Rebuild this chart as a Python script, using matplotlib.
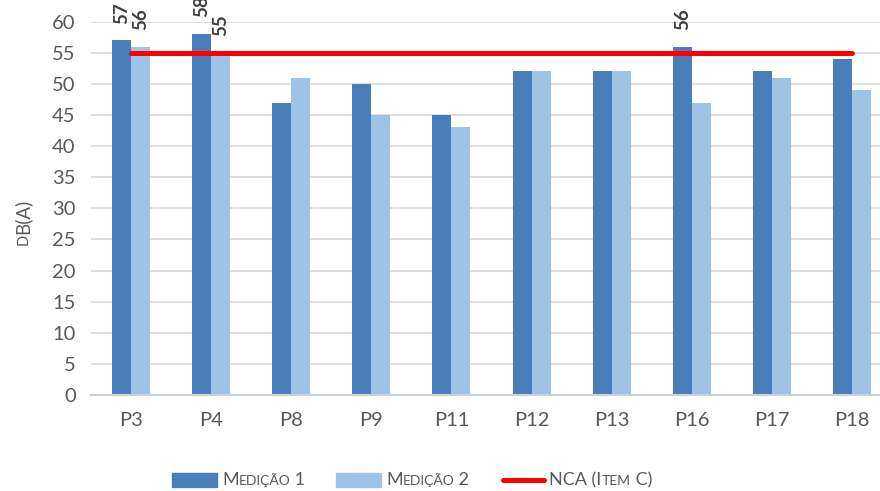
import matplotlib
matplotlib.use("Agg")
import matplotlib.pyplot as plt
import numpy as np
from matplotlib.offsetbox import (AnchoredOffsetbox, HPacker, TextArea,
                                  DrawingArea)
from matplotlib.patches import Rectangle
from matplotlib.lines import Line2D

plt.rcParams['font.family'] = ['Lato', 'DejaVu Sans']

# Measured sound levels per point
points = ["P3", "P4", "P8", "P9", "P11", "P12", "P13", "P16", "P17", "P18"]
medicao1 = [57, 58, 47, 50, 45, 52, 52, 56, 52, 54]
medicao2 = [56, 55, 51, 45, 43, 52, 52, 47, 51, 49]
nca = [55] * len(points)
y_ticks = list(range(0, 61, 5))

# bars carrying a value label: (series index, point index)
labelled = [(0, 0), (1, 0), (0, 1), (1, 1), (0, 7)]

c_dark = "#4A7EBB"
c_light = "#9DC3E6"
c_red = "#FF0000"
c_text = "#595959"

fig = plt.figure(figsize=(8.8, 4.91), dpi=100)
ax = fig.add_axes([91 / 880, 96 / 491, 801 / 880, 373.3 / 491])

x = np.arange(len(points))
bw = 0.2375
ax.bar(x - bw / 2, medicao1, bw, color=c_dark, zorder=2)
ax.bar(x + bw / 2, medicao2, bw, color=c_light, zorder=2)
ax.plot(x, nca, color=c_red, lw=3.6, solid_capstyle="round", zorder=3)

series = [medicao1, medicao2]
offs = [-bw / 2, bw / 2]
for s, i in labelled:
    ax.annotate(f"{series[s][i]}", (x[i] + offs[s], series[s][i]),
                xytext=(0, 12), textcoords="offset points",
                rotation=90, ha="center", va="bottom",
                fontsize=13.5, fontweight="bold", color="#404040",
                annotation_clip=False, zorder=4)

ax.set_xlim(-0.5, len(points) - 0.5)
ax.set_ylim(0, 60)
ax.set_yticks(y_ticks)
ax.set_xticks(x)
ax.set_xticklabels(points)
ax.tick_params(axis="both", length=0, labelsize=14.5, colors=c_text)
ax.tick_params(axis="y", pad=11)
ax.tick_params(axis="x", pad=12)
ax.grid(axis="y", color="#D9D9D9", lw=1.2, zorder=0)
ax.set_axisbelow(True)
for side in ["top", "right", "left"]:
    ax.spines[side].set_visible(False)
ax.spines["bottom"].set_color("#D0D0D0")
ax.spines["bottom"].set_linewidth(1.5)

# y label in small caps: "dB(A)", both parts on one shared baseline
base_x = 28 / 880
fig.text(base_x, 1 - 245 / 491, "D", rotation=90, rotation_mode="anchor",
         fontsize=10.5, color=c_text, ha="left", va="baseline")
fig.text(base_x, 1 - 234.5 / 491, "B(A)", rotation=90, rotation_mode="anchor",
         fontsize=13.5, color=c_text, ha="left", va="baseline")


def sc_text(parts):
    boxes = []
    for txt, small in parts:
        boxes.append(TextArea(txt, textprops=dict(
            fontsize=10 if small else 13, color=c_text)))
    return HPacker(children=boxes, align="baseline", pad=0, sep=0)


def patch_box(color):
    da = DrawingArea(32.4, 9.5, 0, 0)
    da.add_artist(Rectangle((0, 0), 32.4, 9.5, color=color))
    return da


def line_box(color):
    da = DrawingArea(34, 9.5, 0, 0)
    da.add_artist(Line2D([2, 32], [4.75, 4.75], color=color, lw=3.6,
                         solid_capstyle="round"))
    return da


entries = [
    HPacker(children=[patch_box(c_dark),
                      sc_text([("M", False), ("EDIÇÃO", True), (" 1", False)])],
            align="center", pad=0, sep=3.6),
    HPacker(children=[patch_box(c_light),
                      sc_text([("M", False), ("EDIÇÃO", True), (" 2", False)])],
            align="center", pad=0, sep=3.6),
    HPacker(children=[line_box(c_red),
                      sc_text([("NCA (I", False), ("TEM", True), (" C)", False)])],
            align="center", pad=0, sep=1.5),
]
legend = HPacker(children=entries, align="center", pad=0, sep=22)
anch = AnchoredOffsetbox(loc="center", child=legend, frameon=False,
                         bbox_to_anchor=(412 / 880, 1 - 480 / 491),
                         bbox_transform=fig.transFigure, pad=0, borderpad=0)
fig.add_artist(anch)

fig.savefig("out.png", dpi=100, facecolor="white")
